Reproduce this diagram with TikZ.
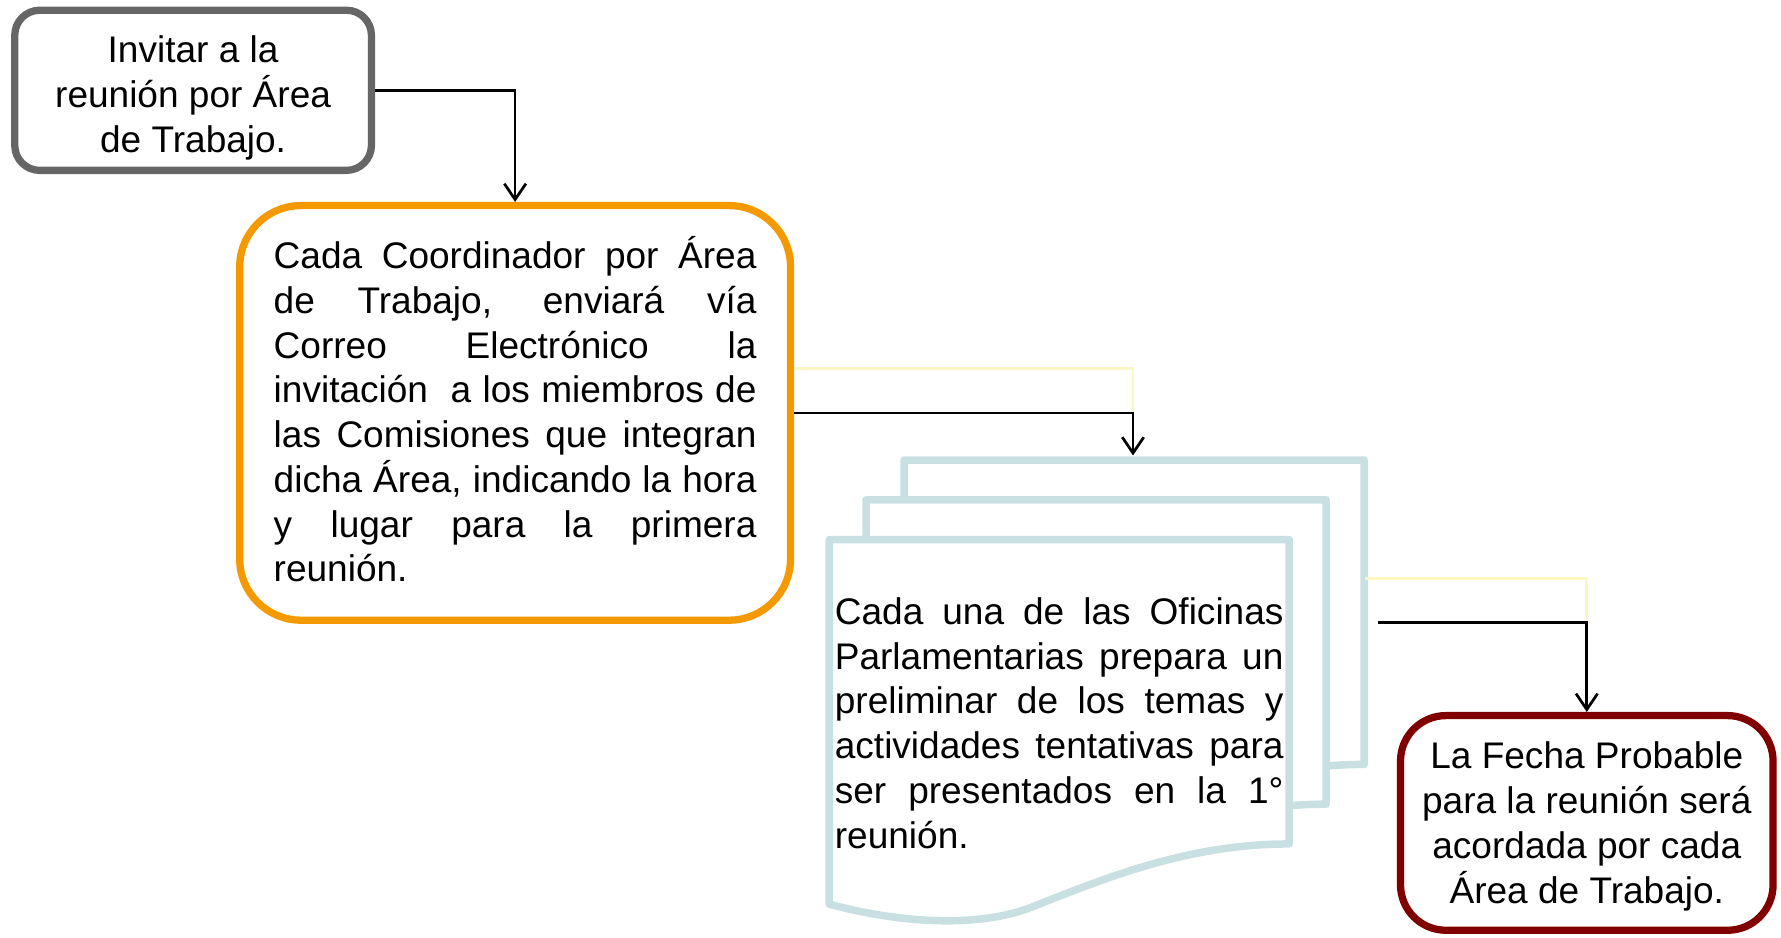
\documentclass[tikz,border=0pt]{standalone}
\usepackage{fontspec}
\setmainfont{Liberation Sans}
\usetikzlibrary{arrows.meta}
\definecolor{boxgrey}{RGB}{102,102,102}
\definecolor{boxorange}{RGB}{245,153,0}
\definecolor{docblue}{RGB}{200,224,226}
\definecolor{boxred}{RGB}{128,0,0}
\definecolor{lineyellow}{RGB}{250,247,195}
\newcommand{\docshape}[2]{%
  \draw[docstyle, shift={(#1,#2)}] (730,475) -- (1135,475) -- (1135,743)
    .. controls (1050,743) and (980,770) .. (910,798)
    .. controls (860,818) and (790,812) .. (730,796) -- cycle;}
\begin{document}
\begin{tikzpicture}[x=0.5pt,y=-0.5pt,
  every node/.style={font=\fontsize{16.3pt}{19.7pt}\selectfont},
  roundbox/.style={draw, rounded corners=#1, line width=3.2pt, fill=white, inner sep=0pt},
  docstyle/.style={draw=docblue, line width=3.3pt, fill=white, line join=round},
  txt/.style={inner sep=0pt},
  conn/.style={draw=black, line width=1.2pt, -{Straight Barb[length=7pt,width=9.5pt]}},
  yel/.style={draw=lineyellow, line width=1.2pt}]
\useasboundingbox (0,0) rectangle (1568,825);

% boxes
\node[roundbox=11pt, draw=boxgrey, minimum width=157pt, minimum height=70.5pt]
  (b1) at (170,79.5) {};
\node[txt, align=center] (b1t) at (170,86) {Invitar a la\\reunión por Área\\de Trabajo.};

\node[roundbox=27pt, draw=boxorange, minimum width=242.5pt, minimum height=182.5pt]
  (b2) at (453.5,363.5) {};
\node[txt, text width=212.5pt, align=justify] (b2t) at (453.5,360.5)
  {\makebox[212.5pt][s]{Cada Coordinador por Área}\\
   \makebox[212.5pt][s]{de Trabajo, enviará vía}\\
   \makebox[212.5pt][s]{Correo Electrónico la}\\
   \makebox[212.5pt][s]{invitación \ a los miembros de}\\
   \makebox[212.5pt][s]{las Comisiones que integran}\\
   \makebox[212.5pt][s]{dicha Área, indicando la hora}\\
   \makebox[212.5pt][s]{y lugar para la primera}\\
   reunión.};

% stacked documents
\docshape{66}{-70}
\docshape{32.5}{-35}
\docshape{0}{0}
\coordinate (d3top) at (997.5,401);
\coordinate (d3edge) at (1202,509);
\coordinate (d3out) at (1213,548);
\node[txt, text width=197.5pt, align=justify] (d1) at (932.5,636.5)
  {\makebox[197.5pt][s]{Cada una de las Oficinas}\\
   \makebox[197.5pt][s]{Parlamentarias prepara un}\\
   \makebox[197.5pt][s]{preliminar de los temas y}\\
   \makebox[197.5pt][s]{actividades tentativas para}\\
   \makebox[197.5pt][s]{ser presentados en la 1°}\\
   reunión.};

\node[roundbox=20pt, draw=boxred, minimum width=164pt, minimum height=94.5pt]
  (b4) at (1397,724.5) {};
\node[txt, align=center] (b4t) at (1397,727.5)
  {La Fecha Probable\\para la reunión será\\acordada por cada\\Área de Trabajo.};

% connectors
\draw[conn] (b1.east) -| (b2.north);
\coordinate (c2) at (d3top |- b2.east);
\draw[yel] ([yshift=19.5pt]b2.east) -| (c2);
\draw[conn] (b2.east) -| (d3top);
\coordinate (c3) at (b4.north |- d3out);
\draw[yel] (d3edge) -| (c3);
\draw[conn] (d3out) -| (b4.north);
\end{tikzpicture}
\end{document}
